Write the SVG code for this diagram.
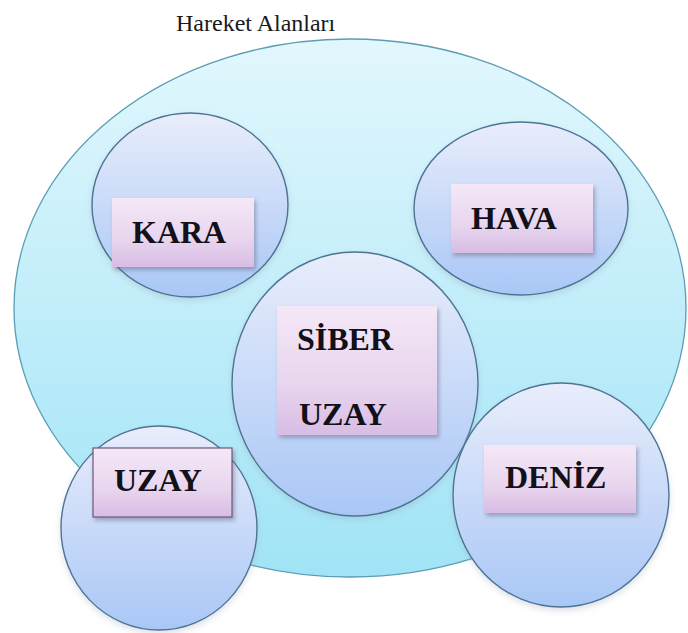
<svg xmlns="http://www.w3.org/2000/svg" width="688" height="633" viewBox="0 0 688 633">
  <defs>
    <linearGradient id="gBig" x1="0" y1="0" x2="0" y2="1">
      <stop offset="0" stop-color="#e2f7fd"/>
      <stop offset="1" stop-color="#a0e4f6"/>
    </linearGradient>
    <linearGradient id="gCircle" x1="0" y1="0" x2="0" y2="1">
      <stop offset="0" stop-color="#e9edfb"/>
      <stop offset="1" stop-color="#a9c7f6"/>
    </linearGradient>
    <linearGradient id="gBox" x1="0" y1="0" x2="0" y2="1">
      <stop offset="0" stop-color="#f4e8f7"/>
      <stop offset="0.6" stop-color="#e8d5ee"/>
      <stop offset="1" stop-color="#d8bde4"/>
    </linearGradient>
    <filter id="shadow" x="-20%" y="-20%" width="140%" height="150%">
      <feDropShadow dx="2" dy="3" stdDeviation="2" flood-color="#5a5a78" flood-opacity="0.45"/>
    </filter>
    <filter id="cshadow" x="-10%" y="-10%" width="120%" height="125%">
      <feDropShadow dx="0" dy="3" stdDeviation="3" flood-color="#9aa6b8" flood-opacity="0.35"/>
    </filter>
  </defs>
  <style>
    .big { fill: url(#gBig); stroke: #5b9db3; stroke-width: 1.3; }
    .circ { fill: url(#gCircle); stroke: #4b7494; stroke-width: 1.4; filter: url(#cshadow); }
    .box { fill: url(#gBox); filter: url(#shadow); }
    .boxb { fill: url(#gBox); stroke: #6e5777; stroke-width: 1.2; filter: url(#shadow); }
    .lbl { font-family: "Liberation Serif", "Times New Roman", serif; font-weight: bold; font-size: 32px; fill: #121018; }
    .title { font-family: "Liberation Serif", "Times New Roman", serif; font-size: 24px; fill: #1a1a1a; }
  </style>
  <rect width="688" height="633" fill="#ffffff"/>
  <text class="title" x="176" y="31">Hareket Alanları</text>

  <g id="hareket-alanlari">
    <ellipse class="big" cx="350" cy="308" rx="336" ry="269"/>
  </g>

  <g id="kara">
    <ellipse class="circ" cx="190" cy="205" rx="98" ry="92"/>
    <rect class="box" x="112" y="198" width="142" height="69"/>
    <text class="lbl" x="132" y="243">KARA</text>
  </g>

  <g id="hava">
    <ellipse class="circ" cx="521" cy="208.5" rx="107" ry="86.5"/>
    <rect class="box" x="451" y="184" width="142" height="69"/>
    <text class="lbl" x="471" y="229">HAVA</text>
  </g>

  <g id="siber-uzay">
    <ellipse class="circ" cx="355" cy="384" rx="123" ry="132"/>
    <rect class="box" x="277" y="306" width="160" height="129"/>
    <text class="lbl" x="297" y="350">SİBER</text>
    <text class="lbl" x="299" y="425">UZAY</text>
  </g>

  <g id="uzay">
    <ellipse class="circ" cx="159" cy="528" rx="98" ry="102"/>
    <rect class="boxb" x="93" y="448" width="139" height="69"/>
    <text class="lbl" x="114" y="491">UZAY</text>
  </g>

  <g id="deniz">
    <ellipse class="circ" cx="561" cy="495" rx="108" ry="112"/>
    <rect class="box" x="484" y="445" width="152" height="68"/>
    <text class="lbl" x="505" y="488">DENİZ</text>
  </g>

  <g id="connectors"/>
</svg>
